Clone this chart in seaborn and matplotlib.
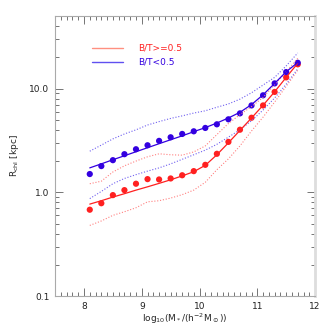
import numpy as np
import pandas as pd
import seaborn as sns
import matplotlib
matplotlib.use("Agg")
import matplotlib.pyplot as plt
from matplotlib.ticker import FixedLocator, MultipleLocator, LogLocator, NullFormatter

# stellar mass bins (log10)
logm = [8.1, 8.3, 8.5, 8.7, 8.9, 9.1, 9.3, 9.5, 9.7, 9.9,
        10.1, 10.3, 10.5, 10.7, 10.9, 11.1, 11.3, 11.5, 11.7]

# points (bulge dominated / disc dominated)
red_pts = [0.68, 0.785, 0.94, 1.05, 1.21, 1.34, 1.33, 1.36, 1.46, 1.60,
           1.84, 2.35, 3.06, 4.01, 5.23, 6.87, 9.27, 12.8, 17.1]
blue_pts = [1.50, 1.79, 2.04, 2.33, 2.60, 2.84, 3.13, 3.39, 3.65, 3.87,
            4.17, 4.52, 5.05, 5.76, 6.87, 8.6, 11.2, 14.4, 17.7]

# fit lines
red_fit = [0.77, 0.83, 0.90, 0.97, 1.05, 1.13, 1.22, 1.32, 1.44, 1.58,
           1.82, 2.3, 3.0, 3.95, 5.2, 6.9, 9.3, 12.8, 17.5]
blue_fit = [1.72, 1.88, 2.06, 2.25, 2.46, 2.69, 2.94, 3.21, 3.5, 3.84,
            4.2, 4.65, 5.2, 5.9, 7.0, 8.7, 11.2, 14.5, 17.8]

# scatter (dotted)
red_hi = [1.21, 1.28, 1.57, 1.8, 2.0, 2.2, 2.35, 2.3, 2.28, 2.45,
          2.8, 3.6, 4.6, 5.6, 6.7, 8.2, 10.9, 14.5, 19.5]
red_lo = [0.48, 0.53, 0.60, 0.65, 0.71, 0.81, 0.83, 0.88, 0.95, 1.05,
          1.25, 1.65, 2.1, 2.8, 3.9, 5.3, 7.4, 10.5, 15.0]
blue_hi = [2.49, 2.85, 3.27, 3.65, 4.0, 4.45, 4.8, 5.15, 5.45, 5.8,
           6.1, 6.6, 7.1, 7.9, 9.1, 10.8, 12.8, 16.5, 22.0]
blue_lo = [0.87, 1.02, 1.21, 1.36, 1.48, 1.6, 1.72, 1.88, 2.08, 2.3,
           2.55, 2.9, 3.4, 4.0, 4.9, 6.2, 8.1, 11.0, 15.5]

df = pd.DataFrame({"logm": logm, "red_pts": red_pts, "blue_pts": blue_pts,
                   "red_fit": red_fit, "blue_fit": blue_fit,
                   "red_hi": red_hi, "red_lo": red_lo,
                   "blue_hi": blue_hi, "blue_lo": blue_lo})

RED = "#ff2020"
BLUE = "#3300e0"
TICK = "#777777"

sns.set_style("ticks", {"xtick.direction": "in", "ytick.direction": "in"})
plt.rcParams["font.family"] = ["DejaVu Sans"]
plt.rcParams["font.size"] = 6.5

fig = plt.figure(figsize=(3.32, 3.32), dpi=100)
ax = fig.add_axes([0.166, 0.108, 0.783, 0.844])

# dotted scatter lines
for col, c in [("red_hi", "#ff8080"), ("red_lo", "#ff8080"),
               ("blue_hi", "#7060f0"), ("blue_lo", "#7060f0")]:
    sns.lineplot(data=df, x="logm", y=col, ax=ax, color=c, lw=0.8,
                 linestyle=(0, (1, 1.6)))

sns.lineplot(data=df, x="logm", y="red_fit", ax=ax, color=RED, lw=0.9)
sns.lineplot(data=df, x="logm", y="blue_fit", ax=ax, color=BLUE, lw=0.9)
sns.scatterplot(data=df, x="logm", y="red_pts", ax=ax, color=RED, s=20,
                edgecolor="none")
sns.scatterplot(data=df, x="logm", y="blue_pts", ax=ax, color=BLUE, s=20,
                edgecolor="none")

ax.set_yscale("log")
ax.set_xlim(7.5, 12)
ax.set_ylim(0.1, 50)
ax.xaxis.set_major_locator(MultipleLocator(1))
ax.xaxis.set_minor_locator(MultipleLocator(0.1))
ax.yaxis.set_major_locator(FixedLocator([0.1, 1.0, 10.0]))
ax.yaxis.set_minor_locator(LogLocator(base=10, subs=np.arange(2, 10)))
ax.yaxis.set_minor_formatter(NullFormatter())
ax.set_yticklabels(["0.1", "1.0", "10.0"])
ax.tick_params(which="both", direction="in", top=True, right=True,
               colors=TICK, labelcolor="#222222", labelsize=6.5, pad=4)
ax.tick_params(which="major", length=6, width=0.7)
ax.tick_params(which="minor", length=3, width=0.7)

# IDL-style inward ticks drawn from the axis locators
x0, x1 = ax.get_xlim()
y0, y1 = ax.get_ylim()
xmaj = [t for t in ax.xaxis.get_majorticklocs() if x0 <= t <= x1]
xmin = [t for t in ax.xaxis.get_minorticklocs() if x0 <= t <= x1]
ymaj = [t for t in ax.yaxis.get_majorticklocs() if y0 <= t <= y1]
ymin = [t for t in ax.yaxis.get_minorticklocs() if y0 <= t <= y1]
xt = ax.get_xaxis_transform()
yt = ax.get_yaxis_transform()
for locs, L in [(xmaj, 0.021), (xmin, 0.011)]:
    ax.vlines(locs, 0, L, transform=xt, color=TICK, lw=0.7)
    ax.vlines(locs, 1 - L, 1, transform=xt, color=TICK, lw=0.7)
for locs, L in [(ymaj, 0.023), (ymin, 0.012)]:
    ax.hlines(locs, 0, L, transform=yt, color=TICK, lw=0.7)
    ax.hlines(locs, 1 - L, 1, transform=yt, color=TICK, lw=0.7)

for s in ax.spines.values():
    s.set_color("#aaaaaa")
    s.set_linewidth(0.8)
ax.spines["right"].set_linewidth(2)
ax.spines["right"].set_color("#dddddd")

ax.set_xlabel(r"log$_{10}$(M$_*$/(h$^{-2}$M$_\odot$))", fontsize=6.5, labelpad=1)
ax.set_ylabel(r"R$_{\rm chl}$ [kpc]", fontsize=6.5, labelpad=6)

# legend drawn as IDL-style lines + coloured text
ax.plot([0.14, 0.26], [0.885, 0.885], transform=ax.transAxes, color="#ff9080", lw=1.0)
ax.plot([0.14, 0.26], [0.835, 0.835], transform=ax.transAxes, color="#6050f0", lw=1.0)
ax.text(0.32, 0.885, "B/T>=0.5", transform=ax.transAxes, color=RED,
        fontsize=6.5, va="center")
ax.text(0.32, 0.835, "B/T<0.5", transform=ax.transAxes, color=BLUE,
        fontsize=6.5, va="center")

fig.savefig("out.png", dpi=100)
